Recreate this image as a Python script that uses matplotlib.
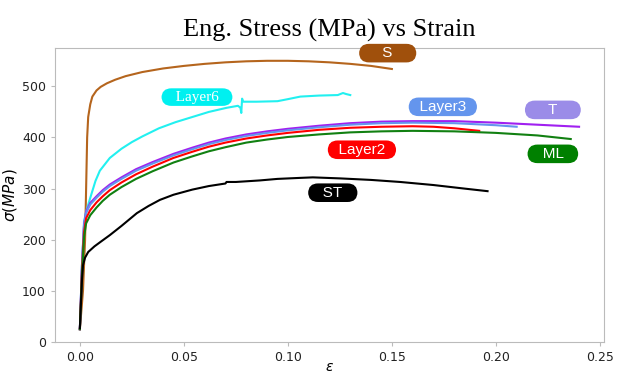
import matplotlib
matplotlib.use("Agg")
import matplotlib.pyplot as plt
import numpy as np

# strain / stress curves
s_x = [0, 0.0015, 0.0025, 0.003, 0.0035, 0.004, 0.005, 0.006, 0.008, 0.01, 0.013, 0.017, 0.022, 0.03, 0.04,
       0.05, 0.06, 0.07, 0.08, 0.09, 0.10, 0.11, 0.12, 0.13, 0.14, 0.145, 0.15]
s_y = [25, 100, 200, 300, 400, 440, 465, 480, 492, 499, 506, 513, 520, 528, 535,
       540, 544, 547, 549, 550, 550, 549, 547, 544, 540, 537, 534]

l6_x = [0, 0.001, 0.002, 0.003, 0.005, 0.0075, 0.0096, 0.0144, 0.02, 0.025, 0.03, 0.038, 0.046, 0.054, 0.062,
        0.0705, 0.076, 0.0772, 0.0776, 0.078, 0.0785, 0.085, 0.095, 0.1, 0.106, 0.115, 0.124, 0.1265, 0.128, 0.13]
l6_y = [25, 150, 235, 255, 282, 315, 335, 360, 378, 391, 402, 418, 430, 440, 450,
        458, 462, 458, 448, 476, 470, 470, 471, 475, 480, 482, 483, 487, 485, 483]

t_x = [0, 0.001, 0.002, 0.003, 0.005, 0.008, 0.011, 0.0144, 0.02, 0.027, 0.035, 0.045, 0.054, 0.062, 0.07,
       0.08, 0.09, 0.1, 0.115, 0.13, 0.145, 0.16, 0.18, 0.2, 0.22, 0.24]
t_y = [25, 150, 230, 255, 272, 285, 297, 308, 322, 338, 352, 368, 380, 390, 398,
       406, 412, 417, 423, 428, 431, 432, 432, 429, 425, 421]

l3_x = [0, 0.001, 0.002, 0.003, 0.005, 0.008, 0.011, 0.0144, 0.02, 0.027, 0.035, 0.045, 0.054, 0.062, 0.07,
        0.08, 0.09, 0.1, 0.115, 0.13, 0.145, 0.16, 0.18, 0.2, 0.21]
l3_y = [25, 148, 227, 252, 269, 282, 294, 305, 319, 335, 349, 365, 377, 387, 395,
        403, 409, 414, 420, 425, 428, 429, 428, 424, 421]

l2_x = [0, 0.001, 0.002, 0.003, 0.005, 0.008, 0.011, 0.0144, 0.02, 0.027, 0.035, 0.045, 0.054, 0.062, 0.07,
        0.08, 0.09, 0.1, 0.115, 0.13, 0.145, 0.16, 0.17, 0.18, 0.192]
l2_y = [25, 140, 215, 242, 258, 273, 285, 297, 312, 328, 343, 360, 372, 382, 390,
        398, 404, 409, 415, 419, 421, 422, 421, 418, 413]

ml_x = [0, 0.001, 0.002, 0.003, 0.005, 0.008, 0.011, 0.0144, 0.02, 0.027, 0.035, 0.045, 0.054, 0.062, 0.07,
        0.08, 0.09, 0.1, 0.115, 0.13, 0.145, 0.16, 0.18, 0.2, 0.22, 0.236]
ml_y = [25, 130, 205, 232, 248, 263, 276, 288, 303, 319, 334, 351, 363, 373, 381,
        390, 396, 401, 406, 410, 412, 413, 412, 409, 404, 397]

st_x = [0, 0.001, 0.0015, 0.0025, 0.004, 0.007, 0.01, 0.0144, 0.02, 0.0274, 0.033, 0.0385, 0.045, 0.054, 0.062,
        0.07, 0.0705, 0.075, 0.0865, 0.095, 0.106, 0.112, 0.125, 0.14, 0.154, 0.17, 0.185, 0.196]
st_y = [27, 120, 150, 165, 176, 187, 196, 209, 227, 252, 266, 278, 288, 298, 305,
        310, 313, 313, 316, 319, 321, 322, 320, 317, 313, 307, 300, 295]

names = ["S", "Layer6", "T", "Layer3", "Layer2", "ML", "ST"]
line_colors = ["#b5651d", "#22f0f0", "#a020f0", "#6495ed", "#ff0000", "#118011", "#000000"]
box_colors = ["#a0500c", "#00f0f0", "#9b8ce8", "#6495ed", "#ff0000", "#008000", "#000000"]
label_x = [0.148, 0.0563, 0.2274, 0.1745, 0.1356, 0.2274, 0.1216]
label_y = [565, 479, 454, 460, 376, 368, 292]
label_pad = [5, 3, 5, 2, 2, 3, 3]
series = [(s_x, s_y), (l6_x, l6_y), (t_x, t_y), (l3_x, l3_y), (l2_x, l2_y), (ml_x, ml_y), (st_x, st_y)]

fig = plt.figure(figsize=(6.24, 3.74), dpi=100)
ax = fig.add_axes([0.088, 0.0856, 0.88, 0.786])

for (x, y), c in zip(series, line_colors):
    ax.plot(x, y, color=c, lw=1.5)

for name, bc, lx, ly, p in zip(names, box_colors, label_x, label_y, label_pad):
    sp = " " * p
    fam = "Liberation Serif" if name == "Layer6" else "Liberation Sans"
    ax.text(lx, ly, sp + name + sp, color="white", fontsize=11, family=fam,
            ha="center", va="center",
            bbox=dict(boxstyle="round,pad=0.15,rounding_size=0.65", fc=bc, ec="none"))

ax.set_xlim(-0.012, 0.252)
ax.set_ylim(0, 575)
ax.set_xticks([0, 0.05, 0.10, 0.15, 0.20, 0.25])
ax.set_yticks([0, 100, 200, 300, 400, 500])
for s in ax.spines.values():
    s.set_color("#bbbbbb")
ax.tick_params(colors="#bbbbbb", labelcolor="#222222", labelsize=9, length=3)
ax.set_xlabel("ε", fontsize=10, style="italic", labelpad=-3)
ax.set_ylabel(r"$\sigma(MPa)$", fontsize=11, labelpad=2)
ax.set_title("Eng. Stress (MPa) vs Strain", family="Liberation Serif", fontsize=19, pad=8)

fig.savefig("out.png", dpi=100)
